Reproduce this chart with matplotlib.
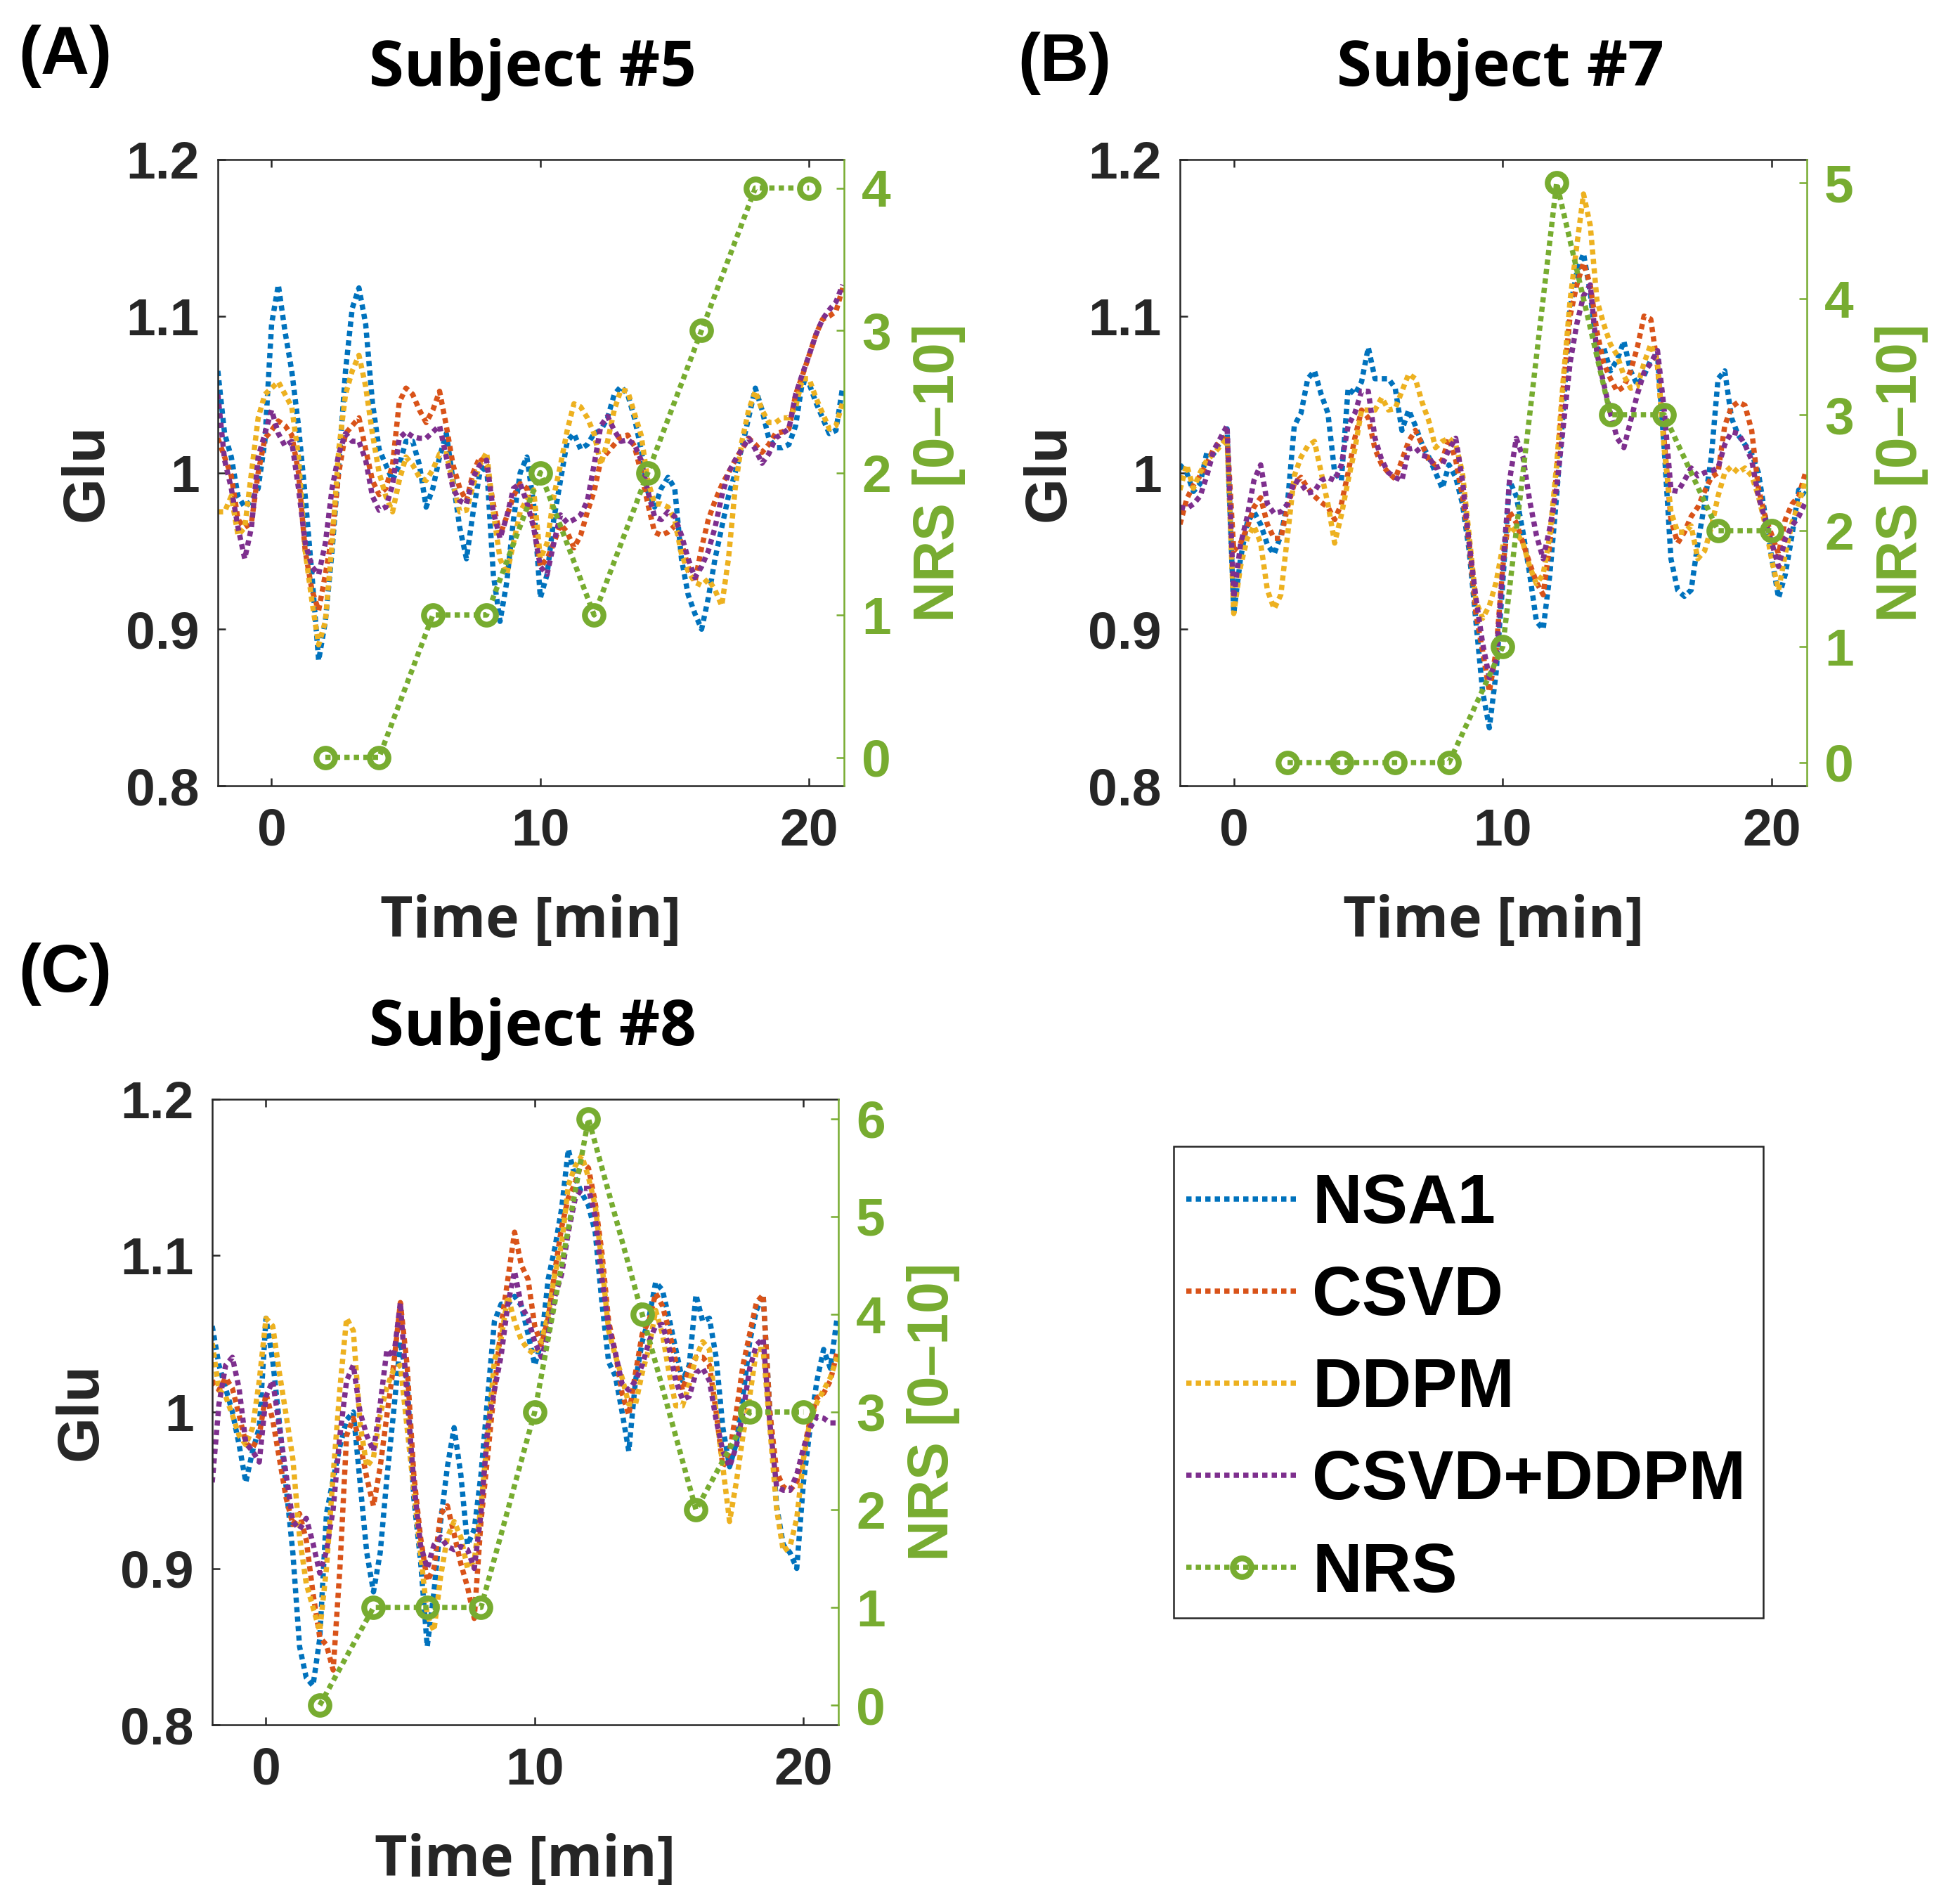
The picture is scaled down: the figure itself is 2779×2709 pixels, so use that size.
import matplotlib
matplotlib.use("Agg")
import matplotlib.pyplot as plt
from matplotlib.patches import Rectangle

# ---------------- data ----------------
time_min = [-2.0, -1.75, -1.5, -1.25, -1.0, -0.75, -0.5, -0.25,
            0.0, 0.25, 0.5, 0.75, 1.0, 1.25, 1.5, 1.75,
            2.0, 2.25, 2.5, 2.75, 3.0, 3.25, 3.5, 3.75,
            4.0, 4.25, 4.5, 4.75, 5.0, 5.25, 5.5, 5.75,
            6.0, 6.25, 6.5, 6.75, 7.0, 7.25, 7.5, 7.75,
            8.0, 8.25, 8.5, 8.75, 9.0, 9.25, 9.5, 9.75,
            10.0, 10.25, 10.5, 10.75, 11.0, 11.25, 11.5, 11.75,
            12.0, 12.25, 12.5, 12.75, 13.0, 13.25, 13.5, 13.75,
            14.0, 14.25, 14.5, 14.75, 15.0, 15.25, 15.5, 15.75,
            16.0, 16.25, 16.5, 16.75, 17.0, 17.25, 17.5, 17.75,
            18.0, 18.25, 18.5, 18.75, 19.0, 19.25, 19.5, 19.75,
            20.0, 20.25, 20.5, 20.75, 21.0, 21.25]

nrs_time = [2, 4, 6, 8, 10, 12, 14, 16, 18, 20]

# Subject #5
nsa1_s5 = [1.065, 1.025, 1.01, 0.985, 0.978, 0.982, 0.99, 1.02,
           1.095, 1.12, 1.09, 1.065, 1.03, 0.985, 0.935, 0.88,
           0.905, 0.95, 1.005, 1.065, 1.105, 1.118, 1.095, 1.045,
           1.015, 1.005, 0.995, 1.005, 1.02, 1.02, 1.005, 0.978,
           0.99, 1.01, 1.025, 0.995, 0.965, 0.945, 0.975, 1.0,
           1.005, 0.935, 0.905, 0.93, 0.97, 1.0, 1.01, 0.98,
           0.92, 0.935, 0.97, 0.995, 1.02, 1.025, 1.015, 1.018,
           1.025, 1.027, 1.035, 1.05, 1.055, 1.05, 1.035, 1.015,
           0.988, 0.978, 0.99, 0.997, 0.99, 0.945, 0.922, 0.91,
           0.9, 0.92, 0.945, 0.965, 0.985, 1.0, 1.016, 1.035,
           1.054, 1.04, 1.022, 1.016, 1.016, 1.018, 1.03, 1.058,
           1.057, 1.045, 1.035, 1.025, 1.027, 1.055]
csvd_s5 = [1.022, 1.01, 0.998, 0.97, 0.965, 0.968, 1.0, 1.022,
           1.027, 1.033, 1.03, 1.024, 1.0, 0.95, 0.925, 0.912,
           0.935, 0.96, 1.0, 1.025, 1.03, 1.035, 1.015, 0.995,
           0.986, 0.99, 1.005, 1.045, 1.054, 1.05, 1.04, 1.032,
           1.04, 1.052, 1.03, 1.005, 0.99, 0.982, 1.0, 1.01,
           1.005, 0.98, 0.96, 0.972, 0.985, 0.993, 0.99, 0.967,
           0.94, 0.945, 0.955, 0.967, 0.962, 0.952, 0.96, 0.975,
           0.988, 1.008, 1.013, 1.018, 1.023, 1.024, 1.017, 1.0,
           0.98, 0.962, 0.96, 0.962, 0.966, 0.955, 0.94, 0.93,
           0.952, 0.97, 0.982, 0.992, 1.0, 1.008, 1.015, 1.022,
           1.018, 1.013, 1.018, 1.025, 1.026, 1.028, 1.05, 1.062,
           1.075, 1.088, 1.098, 1.1, 1.103, 1.118]
ddpm_s5 = [0.975, 0.975, 0.985, 0.96, 0.965, 1.0, 1.035, 1.05,
           1.054, 1.058, 1.05, 1.042, 1.01, 0.95, 0.918, 0.89,
           0.905, 0.955, 1.015, 1.05, 1.065, 1.075, 1.055, 1.025,
           1.0, 0.985, 0.975, 0.995, 1.01, 1.005, 0.997, 0.995,
           1.002, 1.012, 1.012, 0.993, 0.975, 0.976, 0.992, 1.005,
           1.013, 0.975, 0.945, 0.935, 0.955, 0.975, 0.983, 0.989,
           0.945, 0.955, 0.985, 1.005, 1.027, 1.044, 1.042, 1.035,
           1.025, 1.005, 1.02, 1.04, 1.053, 1.052, 1.038, 1.024,
           0.995, 0.98, 0.98, 0.978, 0.97, 0.948, 0.937, 0.93,
           0.928, 0.932, 0.925, 0.915, 0.945, 0.99, 1.02, 1.04,
           1.052, 1.04, 1.032, 1.032, 1.035, 1.035, 1.042, 1.06,
           1.06, 1.048, 1.038, 1.028, 1.03, 1.045]
both_s5 = [1.05, 1.008, 0.99, 0.965, 0.945, 0.965, 1.01, 1.025,
           1.04, 1.025, 1.017, 1.02, 0.99, 0.955, 0.94, 0.935,
           0.955, 0.99, 1.012, 1.025, 1.02, 1.02, 1.008, 0.985,
           0.976, 0.978, 0.992, 1.022, 1.026, 1.023, 1.022, 1.022,
           1.026, 1.03, 1.01, 0.99, 0.982, 0.98, 0.997, 1.005,
           1.008, 0.975, 0.958, 0.972, 0.99, 0.993, 0.981, 0.965,
           0.94, 0.935, 0.955, 0.973, 0.968, 0.97, 0.973, 0.982,
           1.005, 1.03, 1.036, 1.027, 1.02, 1.021, 1.018, 1.008,
           0.988, 0.972, 0.97, 0.975, 0.972, 0.96, 0.945, 0.933,
           0.94, 0.95, 0.965, 0.985, 1.0, 1.008, 1.015, 1.022,
           1.015, 1.006, 1.012, 1.022, 1.025, 1.028, 1.05, 1.063,
           1.075, 1.088, 1.098, 1.104, 1.109, 1.12]
nrs_s5 = [0, 0, 1, 1, 2, 1, 2, 3, 4, 4]

# Subject #7
nsa1_s7 = [1.005, 1.0, 0.988, 0.993, 1.013, 1.012, 1.02, 1.028,
           0.91, 0.945, 0.968, 0.975, 0.967, 0.954, 0.948, 0.96,
           0.981, 1.03, 1.038, 1.06, 1.065, 1.05, 1.038, 1.0,
           0.995, 1.054, 1.05, 1.058, 1.08, 1.06, 1.06, 1.06,
           1.054, 1.027, 1.04, 1.03, 1.018, 1.01, 1.0, 0.99,
           1.005, 0.997, 0.98, 0.95, 0.905, 0.86, 0.837, 0.872,
           0.93, 0.995, 0.985, 0.962, 0.935, 0.905, 0.9, 0.935,
           0.985, 1.04, 1.105, 1.128, 1.14, 1.115, 1.078, 1.08,
           1.065, 1.072, 1.084, 1.065, 1.056, 1.062, 1.072, 1.075,
           1.015, 0.945, 0.925, 0.921, 0.925, 0.955, 0.98, 1.01,
           1.06, 1.065, 1.035, 1.024, 1.018, 1.012, 1.0, 0.973,
           0.945, 0.92, 0.935, 0.96, 0.989, 0.986]
csvd_s7 = [0.967, 0.983, 0.992, 0.998, 1.006, 1.015, 1.02, 1.024,
           0.95, 0.955, 0.965, 0.978, 0.984, 0.967, 0.958, 0.958,
           0.978, 0.993, 0.997, 0.99, 0.985, 0.981, 0.978, 0.97,
           0.98, 1.0, 1.022, 1.04, 1.035, 1.015, 1.005, 1.0,
           0.996, 1.008, 1.02, 1.027, 1.018, 1.008, 1.005, 1.008,
           1.022, 1.008, 0.985, 0.955, 0.91, 0.886, 0.86, 0.886,
           0.94, 0.975, 0.968, 0.955, 0.942, 0.93, 0.922, 0.955,
           1.0, 1.055, 1.1, 1.12, 1.134, 1.12, 1.09, 1.07,
           1.06, 1.052, 1.055, 1.065, 1.08, 1.1, 1.098, 1.068,
           1.02, 0.97, 0.955, 0.962, 0.972, 0.978, 0.988, 0.997,
           1.0, 1.03, 1.042, 1.045, 1.043, 1.027, 0.99, 0.972,
           0.96, 0.948, 0.97, 0.98, 0.985, 1.0]
ddpm_s7 = [0.989, 1.005, 0.99, 1.0, 1.008, 1.012, 1.017, 1.022,
           0.91, 0.94, 0.958, 0.966, 0.955, 0.925, 0.913, 0.922,
           0.96, 0.998, 1.01, 1.017, 1.02, 1.0, 0.98, 0.955,
           0.973, 0.995, 1.015, 1.04, 1.04, 1.04, 1.048, 1.04,
           1.041, 1.052, 1.063, 1.06, 1.045, 1.033, 1.016, 1.02,
           1.022, 1.018, 1.0, 0.96, 0.918, 0.907, 0.915, 0.93,
           0.953, 0.966, 0.962, 0.955, 0.94, 0.929, 0.935, 0.96,
           1.005, 1.06, 1.11, 1.145, 1.178, 1.158, 1.11, 1.095,
           1.082, 1.075, 1.062, 1.054, 1.055, 1.07, 1.082, 1.07,
           1.015, 0.975, 0.962, 0.962, 0.966, 0.945, 0.95, 0.965,
           0.985, 1.0, 1.004, 1.0, 1.003, 0.998, 0.985, 0.967,
           0.944, 0.925, 0.948, 0.968, 0.98, 0.995]
both_s7 = [0.978, 0.977, 0.98, 0.985, 0.998, 1.014, 1.022, 1.03,
           0.92, 0.954, 0.972, 0.995, 1.005, 0.98, 0.974, 0.975,
           0.98, 0.995, 0.993, 0.987, 0.988, 0.995, 0.997, 0.995,
           1.005, 1.03, 1.038, 1.052, 1.052, 1.022, 1.008, 1.0,
           0.997, 0.995, 1.015, 1.016, 1.011, 1.01, 1.003, 1.005,
           1.015, 1.022, 0.995, 0.955, 0.92, 0.891, 0.869, 0.88,
           0.94, 0.995, 1.022, 1.01, 0.982, 0.96, 0.945, 0.965,
           0.99, 1.03, 1.07, 1.095, 1.113, 1.12, 1.076, 1.057,
           1.038, 1.022, 1.016, 1.033, 1.05, 1.064, 1.07, 1.078,
           1.04, 0.989, 0.988, 0.995, 1.003, 0.998, 1.0, 1.001,
           1.003, 1.018, 1.026, 1.025, 1.018, 1.008, 0.985, 0.97,
           0.955, 0.94, 0.958, 0.966, 0.972, 0.981]
nrs_s7 = [0, 0, 0, 0, 1, 5, 3, 3, 2, 2]

# Subject #8
nsa1_s8 = [1.055, 1.03, 1.015, 1.0, 0.979, 0.955, 0.975, 0.99,
           1.06, 1.033, 0.993, 0.952, 0.91, 0.85, 0.83, 0.825,
           0.855, 0.935, 0.957, 0.978, 0.995, 1.0, 0.955, 0.91,
           0.885, 0.91, 0.958, 1.0, 1.045, 1.02, 0.945, 0.905,
           0.85, 0.885, 0.93, 0.965, 0.99, 0.96, 0.915, 0.925,
           0.96, 1.01, 1.058, 1.069, 1.069, 1.074, 1.068, 1.05,
           1.03, 1.045, 1.085, 1.105, 1.13, 1.168, 1.15, 1.14,
           1.132, 1.115, 1.07, 1.032, 1.023, 1.0, 0.975, 1.02,
           1.045, 1.06, 1.083, 1.078, 1.06, 1.04, 1.02, 1.03,
           1.075, 1.058, 1.06, 1.035, 0.99, 0.965, 0.98, 1.01,
           1.045, 1.065, 1.075, 1.0, 0.94, 0.915, 0.91, 0.9,
           0.955, 0.99, 1.02, 1.04, 1.028, 1.06]
csvd_s8 = [1.02, 1.014, 1.022, 1.015, 0.998, 0.98, 0.977, 0.985,
           1.012, 0.995, 0.97, 0.945, 0.928, 0.935, 0.918, 0.884,
           0.856, 0.851, 0.835, 0.9, 0.985, 0.996, 0.98, 0.958,
           0.94, 0.965, 0.998, 1.03, 1.07, 1.03, 0.96, 0.92,
           0.892, 0.9, 0.935, 0.94, 0.922, 0.903, 0.888, 0.868,
           0.93, 0.972, 1.015, 1.055, 1.085, 1.115, 1.094, 1.085,
           1.055, 1.043, 1.06, 1.09, 1.118, 1.137, 1.146, 1.16,
           1.156, 1.134, 1.102, 1.058, 1.038, 1.012, 0.998, 1.025,
           1.05, 1.058, 1.076, 1.068, 1.052, 1.032, 1.014, 1.028,
           1.035, 1.035, 1.03, 1.0, 0.965, 0.975, 1.0, 1.03,
           1.05, 1.07, 1.075, 1.0, 0.962, 0.952, 0.95, 0.955,
           0.975, 0.995, 1.009, 1.012, 1.02, 1.038]
ddpm_s8 = [1.044, 1.014, 1.01, 0.998, 0.985, 0.979, 0.99, 1.02,
           1.06, 1.055, 1.025, 0.998, 0.97, 0.92, 0.89, 0.875,
           0.86, 0.9, 0.96, 1.015, 1.06, 1.052, 0.993, 0.965,
           0.971, 0.998, 1.016, 1.027, 1.03, 0.99, 0.95, 0.91,
           0.87, 0.86, 0.895, 0.92, 0.93, 0.92, 0.9, 0.905,
           0.94, 0.985, 1.033, 1.047, 1.074, 1.058, 1.046, 1.04,
           1.037, 1.045, 1.062, 1.088, 1.107, 1.145, 1.157, 1.164,
           1.15, 1.132, 1.095, 1.052, 1.036, 1.022, 1.005, 1.005,
           1.025, 1.041, 1.065, 1.05, 1.025, 1.004, 1.004, 1.018,
           1.035, 1.045, 1.04, 1.0, 0.965, 0.93, 0.955, 0.985,
           1.01, 1.04, 1.04, 0.99, 0.938, 0.911, 0.914, 0.932,
           0.97, 0.995, 1.006, 1.014, 1.022, 1.035]
both_s8 = [0.955, 1.005, 1.03, 1.035, 1.015, 0.98, 0.975, 0.968,
           1.01, 1.02, 0.99, 0.96, 0.93, 0.925, 0.932, 0.916,
           0.897, 0.911, 0.938, 0.985, 1.02, 1.03, 1.0, 0.985,
           0.975, 1.005, 1.04, 1.035, 1.07, 1.01, 0.955, 0.915,
           0.9, 0.915, 0.92, 0.914, 0.912, 0.914, 0.912, 0.9,
           0.935, 0.99, 1.014, 1.036, 1.069, 1.09, 1.068, 1.06,
           1.045, 1.035, 1.05, 1.074, 1.088, 1.115, 1.136, 1.143,
           1.143, 1.125, 1.085, 1.055, 1.038, 1.018, 1.014, 1.02,
           1.03, 1.045, 1.055, 1.056, 1.041, 1.02, 1.008, 1.01,
           1.025, 1.028, 1.02, 0.995, 0.975, 0.965, 0.978, 1.0,
           1.028, 1.043, 1.047, 0.993, 0.952, 0.95, 0.95, 0.96,
           0.977, 0.99, 0.997, 0.996, 0.993, 0.993]
nrs_s8 = [0, 1, 1, 1, 3, 6, 4, 2, 3, 3]

series_names = ["NSA1", "CSVD", "DDPM", "CSVD+DDPM"]
nrs_name = "NRS"
panel_titles = ["Subject #5", "Subject #7", "Subject #8"]
panel_letters = ["(A)", "(B)", "(C)"]
x_ticks = [0, 10, 20]
y_ticks = [0.8, 0.9, 1.0, 1.1, 1.2]
y_ticklabels = ["0.8", "0.9", "1", "1.1", "1.2"]

# ---------------- style ----------------
W, H = 2779, 2709
BLUE, ORANGE, YELLOW, PURPLE, GREEN = "#0072BD", "#D95319", "#EDB120", "#7E2F8E", "#77AC30"
AXC = "#262626"
LW = 5.4
DOT = (0, (1, 0.8))
ARIAL = "Liberation Sans"
SEGOE = "Open Sans"
plt.rcParams["font.family"] = [ARIAL, "DejaVu Sans"]
plt.rcParams["font.weight"] = "bold"
plt.rcParams["axes.labelweight"] = "bold"

fig = plt.figure(figsize=(W / 100, H / 100), dpi=100)


def px_rect(l, t, r, b):
    return [l / W, 1 - b / H, (r - l) / W, (b - t) / H]


panels = [
    dict(rect=px_rect(310, 227, 1201, 1118), data=[nsa1_s5, csvd_s5, ddpm_s5, both_s5], nrs=nrs_s5, top=4,
         title_xy=(758, 122), letter_xy=(26, 105)),
    dict(rect=px_rect(1679, 227, 2571, 1118), data=[nsa1_s7, csvd_s7, ddpm_s7, both_s7], nrs=nrs_s7, top=5,
         title_xy=(2135, 122), letter_xy=(1448, 115)),
    dict(rect=px_rect(302, 1564, 1193, 2454), data=[nsa1_s8, csvd_s8, ddpm_s8, both_s8], nrs=nrs_s8, top=6,
         title_xy=(758, 1487), letter_xy=(26, 1411)),
]

colors = [BLUE, ORANGE, YELLOW, PURPLE]
handles = []
for i, p in enumerate(panels):
    ax = fig.add_axes(p["rect"])
    lines = []
    for vals, c, name in zip(p["data"], colors, series_names):
        ln, = ax.plot(time_min, vals, color=c, lw=LW, linestyle=DOT, label=name)
        lines.append(ln)
    ax.set_xlim(-2, 21.3)
    ax.set_ylim(0.8, 1.2)
    ax.set_xticks(x_ticks)
    ax.set_xticklabels([str(v) for v in x_ticks])
    ax.set_yticks(y_ticks)
    ax.set_yticklabels(y_ticklabels)
    ax.tick_params(axis="both", direction="in", length=8, width=1.8, colors=AXC, labelsize=54)
    ax.tick_params(axis="x", top=True, pad=22)
    ax.tick_params(axis="y", right=False, pad=19)
    for s in ["left", "top", "bottom"]:
        ax.spines[s].set_color(AXC)
        ax.spines[s].set_linewidth(1.8)
    ax.spines["right"].set_visible(False)

    ax.set_xlabel("Time [min]", family=SEGOE, weight="bold", fontsize=58, color=AXC, va="baseline")
    ax.xaxis.set_label_coords(0.5, -215 / 891)
    ax.set_ylabel("Glu", fontsize=60, weight="bold", color=AXC, va="baseline", rotation=90,
                  rotation_mode="anchor")
    ax.yaxis.set_label_coords(-164 / 891, 0.5)

    ax2 = ax.twinx()
    nl, = ax2.plot(nrs_time, p["nrs"], color=GREEN, lw=LW, linestyle=DOT, marker="o",
                   ms=19, mew=6, mfc="none", mec=GREEN, label=nrs_name, clip_on=False)
    ax2.set_ylim(-0.2, p["top"] + 0.2)
    ax2.set_yticks(list(range(p["top"] + 1)))
    ax2.tick_params(axis="y", direction="in", length=8, width=1.8, colors=GREEN, labelsize=54, pad=18)
    for s in ["left", "top", "bottom"]:
        ax2.spines[s].set_visible(False)
    ax2.spines["right"].set_color(GREEN)
    ax2.spines["right"].set_linewidth(1.8)
    ax2.set_ylabel("NRS [0\u201310]", fontsize=58, weight="bold", color=GREEN, va="baseline",
                   rotation=90, rotation_mode="anchor", ha="center")
    ax2.yaxis.set_label_coords(1 + 156 / 891, 0.5)

    fig.text(p["title_xy"][0] / W, 1 - p["title_xy"][1] / H, panel_titles[i], family=SEGOE,
             weight="bold", fontsize=65, color="black", ha="center", va="baseline")
    fig.text(p["letter_xy"][0] / W, 1 - p["letter_xy"][1] / H, panel_letters[i], fontsize=69,
             weight="bold", color="black", ha="left", va="baseline")
    if i == 0:
        handles = lines + [nl]

# legend box (frame drawn separately so that the inner margins match the reference)
fig.add_artist(Rectangle((1670 / W, 1 - 2302 / H), (2509 - 1670) / W, (2302 - 1631) / H,
                         transform=fig.transFigure, facecolor="white", edgecolor=AXC,
                         linewidth=1.8, zorder=4))
leg = fig.legend(handles, series_names + [nrs_name], loc="upper left",
                 bbox_to_anchor=(1688 / W, 1 - 1669 / H), bbox_transform=fig.transFigure,
                 frameon=False, borderaxespad=0, borderpad=0,
                 labelspacing=0.41, handlelength=1.61, handletextpad=0.22,
                 prop=dict(family=ARIAL, weight="bold", size=70.5))
leg.set_zorder(5)

fig.savefig("out.png", dpi=100)
